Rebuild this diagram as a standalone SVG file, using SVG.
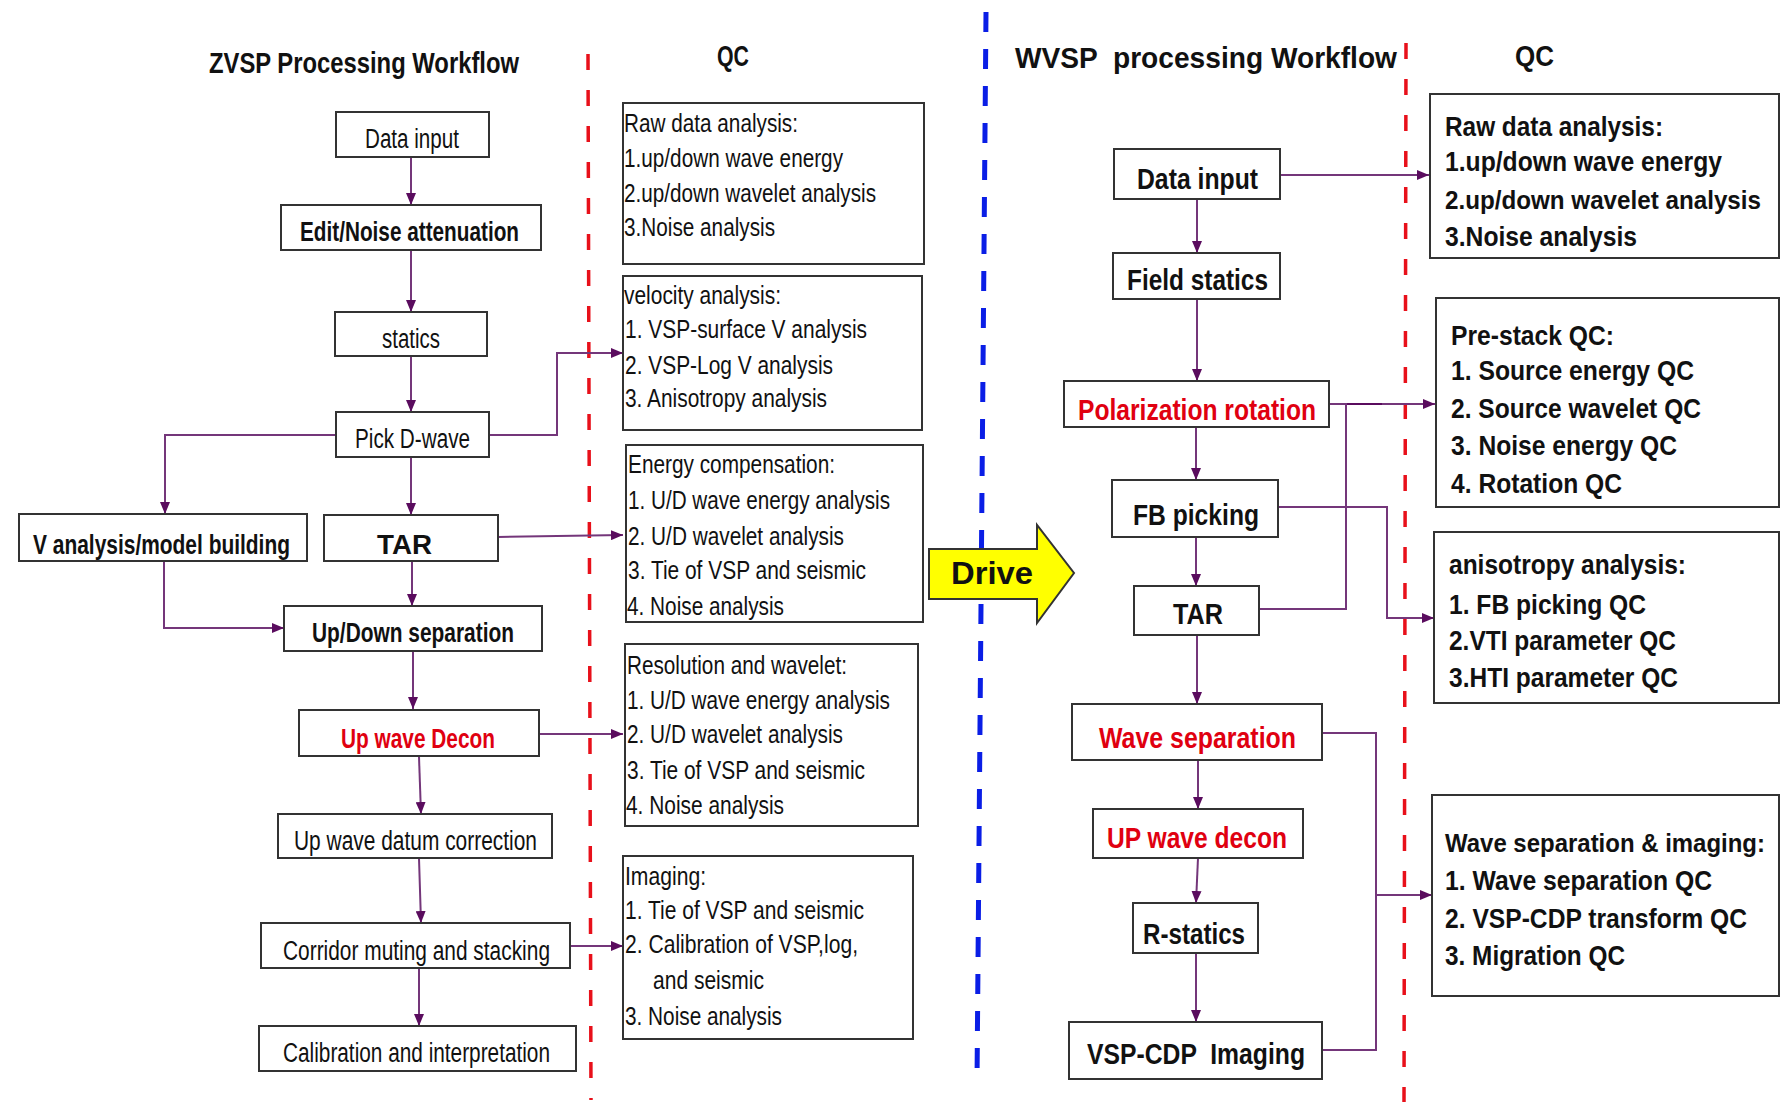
<svg xmlns="http://www.w3.org/2000/svg" width="1781" height="1103" viewBox="0 0 1781 1103">
<style>
text{font-family:"Liberation Sans",Arial,sans-serif;fill:#111}
.p{font-size:27px}
.b{font-size:27px;font-weight:bold}
.red{fill:#e00010}
.t{font-size:29px;font-weight:bold}
.q{font-size:26.5px}
.qb{font-size:27.5px;font-weight:bold}
.qs{font-size:25px}
.rb{font-size:29px;font-weight:bold}
.box{fill:#fff;stroke:#333;stroke-width:2}
.c{fill:none;stroke:#74367a;stroke-width:2}
.ca{fill:none;stroke:#74367a;stroke-width:2;marker-end:url(#ah)}
</style>
<defs>
<marker id="ah" markerUnits="userSpaceOnUse" markerWidth="12" markerHeight="10" refX="12" refY="5" orient="auto">
<path d="M0,0 L12,5 L0,10 z" fill="#5a0c5e"/>
</marker>
</defs>
<rect width="1781" height="1103" fill="#fff"/>

<g id="dividers">
<path d="M588,54 L591,1100" stroke="#e8101a" stroke-width="3.5" stroke-dasharray="16 20" fill="none"/>
<path d="M986,12 L977,1082" stroke="#0a1ee6" stroke-width="5" stroke-dasharray="20 17" fill="none"/>
<path d="M1406,43 L1404,1102" stroke="#e8101a" stroke-width="3.5" stroke-dasharray="16 20" fill="none"/>
</g>

<g id="titles">
<text class="t" x="209" y="73" textLength="310" lengthAdjust="spacingAndGlyphs">ZVSP Processing Workflow</text>
<text class="t" x="717" y="66" textLength="32" lengthAdjust="spacingAndGlyphs">QC</text>
<text class="t" x="1015" y="68" textLength="382" lengthAdjust="spacingAndGlyphs" xml:space="preserve">WVSP  processing Workflow</text>
<text class="t" x="1515" y="66" textLength="39" lengthAdjust="spacingAndGlyphs">QC</text>
</g>

<g id="connectors">
<path class="ca" d="M411,157 V205"/>
<path class="ca" d="M411,250 V312"/>
<path class="ca" d="M411,356 V412"/>
<path class="ca" d="M336,435 H165 V514"/>
<path class="ca" d="M489,435 H557 V353 H623"/>
<path class="ca" d="M411,457 V515"/>
<path class="ca" d="M498,537 L623,535"/>
<path class="ca" d="M412,561 V606"/>
<path class="ca" d="M164,561 V628 H284"/>
<path class="ca" d="M413,651 V709"/>
<path class="ca" d="M539,734 H623"/>
<path class="ca" d="M419,757 L421,814"/>
<path class="ca" d="M419,858 L421,923"/>
<path class="ca" d="M570,946 H623"/>
<path class="ca" d="M419,968 V1026"/>

<path class="ca" d="M1280,175 H1429"/>
<path class="ca" d="M1197,199 V253"/>
<path class="ca" d="M1197,299 V381"/>
<path class="ca" d="M1329,404 H1435"/>
<path class="c" d="M1347,404 H1382" stroke-width="3" style="stroke:#5a0c5e"/>
<path class="ca" d="M1196,427 V480"/>
<path class="ca" d="M1278,507 H1387 V618 H1434"/>
<path class="ca" d="M1196,537 V586"/>
<path class="c" d="M1259,609 H1346 V404"/>
<path class="ca" d="M1197,635 V704"/>
<path class="c" d="M1322,733 H1376 V1050 H1322"/>
<path class="ca" d="M1376,895 H1432"/>
<path class="ca" d="M1198,760 V809"/>
<path class="ca" d="M1198,858 L1196,903"/>
<path class="ca" d="M1196,953 V1022"/>
</g>

<g id="z-data-input"><rect class="box" x="336" y="112" width="153" height="45"/><text class="p" x="365" y="148" textLength="94" lengthAdjust="spacingAndGlyphs">Data input</text></g>
<g id="z-edit-noise"><rect class="box" x="281" y="205" width="260" height="45"/><text class="b" x="300" y="241" textLength="219" lengthAdjust="spacingAndGlyphs">Edit/Noise attenuation</text></g>
<g id="z-statics"><rect class="box" x="335" y="312" width="152" height="44"/><text class="p" x="382" y="348" textLength="58" lengthAdjust="spacingAndGlyphs">statics</text></g>
<g id="z-pick"><rect class="box" x="336" y="412" width="153" height="45"/><text class="p" x="355" y="448" textLength="115" lengthAdjust="spacingAndGlyphs">Pick D-wave</text></g>
<g id="z-vanalysis"><rect class="box" x="19" y="514" width="288" height="47"/><text class="b" x="33" y="554" textLength="257" lengthAdjust="spacingAndGlyphs">V analysis/model building</text></g>
<g id="z-tar"><rect class="box" x="324" y="515" width="174" height="46"/><text class="b" x="377" y="554" textLength="55" lengthAdjust="spacingAndGlyphs">TAR</text></g>
<g id="z-updown"><rect class="box" x="284" y="606" width="258" height="45"/><text class="b" x="312" y="642" textLength="202" lengthAdjust="spacingAndGlyphs">Up/Down separation</text></g>
<g id="z-decon"><rect class="box" x="299" y="710" width="240" height="46"/><text class="b red" x="341" y="748" textLength="154" lengthAdjust="spacingAndGlyphs">Up wave Decon</text></g>
<g id="z-datum"><rect class="box" x="278" y="814" width="274" height="44"/><text class="p" x="294" y="850" textLength="243" lengthAdjust="spacingAndGlyphs">Up wave datum correction</text></g>
<g id="z-corridor"><rect class="box" x="261" y="923" width="309" height="45"/><text class="p" x="283" y="960" textLength="267" lengthAdjust="spacingAndGlyphs">Corridor muting and stacking</text></g>
<g id="z-calibration"><rect class="box" x="259" y="1026" width="317" height="45"/><text class="p" x="283" y="1062" textLength="267" lengthAdjust="spacingAndGlyphs">Calibration and interpretation</text></g>

<g id="zqc-raw"><rect class="box" x="623" y="103" width="301" height="161"/>
<text class="q" x="624" y="132" textLength="174" lengthAdjust="spacingAndGlyphs">Raw data analysis:</text>
<text class="q" x="624" y="167" textLength="219" lengthAdjust="spacingAndGlyphs">1.up/down wave energy</text>
<text class="q" x="624" y="202" textLength="252" lengthAdjust="spacingAndGlyphs">2.up/down wavelet analysis</text>
<text class="q" x="624" y="236" textLength="151" lengthAdjust="spacingAndGlyphs">3.Noise analysis</text></g>
<g id="zqc-velocity"><rect class="box" x="623" y="276" width="299" height="154"/>
<text class="q" x="624" y="304" textLength="157" lengthAdjust="spacingAndGlyphs">velocity analysis:</text>
<text class="q" x="625" y="338" textLength="242" lengthAdjust="spacingAndGlyphs">1. VSP-surface V analysis</text>
<text class="q" x="625" y="374" textLength="208" lengthAdjust="spacingAndGlyphs">2. VSP-Log V analysis</text>
<text class="q" x="625" y="407" textLength="202" lengthAdjust="spacingAndGlyphs">3. Anisotropy analysis</text></g>
<g id="zqc-energy"><rect class="box" x="626" y="445" width="297" height="177"/>
<text class="q" x="628" y="473" textLength="207" lengthAdjust="spacingAndGlyphs">Energy compensation:</text>
<text class="q" x="628" y="509" textLength="262" lengthAdjust="spacingAndGlyphs">1. U/D wave energy analysis</text>
<text class="q" x="628" y="545" textLength="216" lengthAdjust="spacingAndGlyphs">2. U/D wavelet analysis</text>
<text class="q" x="628" y="579" textLength="238" lengthAdjust="spacingAndGlyphs">3. Tie of VSP and seismic</text>
<text class="q" x="627" y="615" textLength="157" lengthAdjust="spacingAndGlyphs">4. Noise analysis</text></g>
<g id="zqc-resolution"><rect class="box" x="625" y="644" width="293" height="182"/>
<text class="q" x="627" y="674" textLength="220" lengthAdjust="spacingAndGlyphs">Resolution and wavelet:</text>
<text class="q" x="627" y="709" textLength="263" lengthAdjust="spacingAndGlyphs">1. U/D wave energy analysis</text>
<text class="q" x="627" y="743" textLength="216" lengthAdjust="spacingAndGlyphs">2. U/D wavelet analysis</text>
<text class="q" x="627" y="779" textLength="238" lengthAdjust="spacingAndGlyphs">3. Tie of VSP and seismic</text>
<text class="q" x="626" y="814" textLength="158" lengthAdjust="spacingAndGlyphs">4. Noise analysis</text></g>
<g id="zqc-imaging"><rect class="box" x="623" y="856" width="290" height="183"/>
<text class="q" x="625" y="885" textLength="81" lengthAdjust="spacingAndGlyphs">Imaging:</text>
<text class="q" x="625" y="919" textLength="239" lengthAdjust="spacingAndGlyphs">1. Tie of VSP and seismic</text>
<text class="q" x="625" y="953" textLength="233" lengthAdjust="spacingAndGlyphs">2. Calibration of VSP,log,</text>
<text class="q" x="653" y="989" textLength="111" lengthAdjust="spacingAndGlyphs">and seismic</text>
<text class="q" x="625" y="1025" textLength="157" lengthAdjust="spacingAndGlyphs">3. Noise analysis</text></g>

<g id="drive">
<polygon points="929,549 1037,549 1037,525 1074,573 1037,623 1037,599 929,599" fill="#ffff00" stroke="#333" stroke-width="2"/>
<text x="951" y="584" style="font-size:32px;font-weight:bold" textLength="82" lengthAdjust="spacingAndGlyphs">Drive</text>
</g>

<g id="w-data-input"><rect class="box" x="1114" y="149" width="166" height="50"/><text class="rb" x="1137" y="189" textLength="121" lengthAdjust="spacingAndGlyphs">Data input</text></g>
<g id="w-field-statics"><rect class="box" x="1113" y="253" width="167" height="46"/><text class="rb" x="1127" y="290" textLength="141" lengthAdjust="spacingAndGlyphs">Field statics</text></g>
<g id="w-polarization"><rect class="box" x="1064" y="381" width="265" height="46"/><text class="rb red" x="1078" y="420" textLength="238" lengthAdjust="spacingAndGlyphs">Polarization rotation</text></g>
<g id="w-fb"><rect class="box" x="1112" y="480" width="166" height="57"/><text class="rb" x="1133" y="525" textLength="126" lengthAdjust="spacingAndGlyphs">FB picking</text></g>
<g id="w-tar"><rect class="box" x="1134" y="586" width="125" height="49"/><text class="rb" x="1173" y="624" textLength="50" lengthAdjust="spacingAndGlyphs">TAR</text></g>
<g id="w-wavesep"><rect class="box" x="1072" y="704" width="250" height="56"/><text class="rb red" x="1099" y="748" textLength="197" lengthAdjust="spacingAndGlyphs">Wave separation</text></g>
<g id="w-updecon"><rect class="box" x="1093" y="809" width="210" height="49"/><text class="rb red" x="1107" y="848" textLength="180" lengthAdjust="spacingAndGlyphs">UP wave decon</text></g>
<g id="w-rstatics"><rect class="box" x="1133" y="903" width="125" height="50"/><text class="rb" x="1143" y="944" textLength="102" lengthAdjust="spacingAndGlyphs">R-statics</text></g>
<g id="w-vspcdp"><rect class="box" x="1069" y="1022" width="253" height="57"/><text class="rb" x="1087" y="1064" textLength="218" lengthAdjust="spacingAndGlyphs" xml:space="preserve">VSP-CDP  Imaging</text></g>

<g id="wqc-raw"><rect class="box" x="1430" y="94" width="349" height="164"/>
<text class="qb" x="1445" y="136" textLength="218" lengthAdjust="spacingAndGlyphs">Raw data analysis:</text>
<text class="qb" x="1445" y="171" textLength="277" lengthAdjust="spacingAndGlyphs">1.up/down wave energy</text>
<text class="qb" x="1445" y="209" style="font-size:25px" textLength="316" lengthAdjust="spacingAndGlyphs">2.up/down wavelet analysis</text>
<text class="qb" x="1445" y="246" textLength="192" lengthAdjust="spacingAndGlyphs">3.Noise analysis</text></g>
<g id="wqc-prestack"><rect class="box" x="1436" y="298" width="343" height="209"/>
<text class="qb" x="1451" y="345" textLength="163" lengthAdjust="spacingAndGlyphs">Pre-stack QC:</text>
<text class="qb" x="1451" y="380" textLength="243" lengthAdjust="spacingAndGlyphs">1. Source energy QC</text>
<text class="qb" x="1451" y="418" textLength="250" lengthAdjust="spacingAndGlyphs">2. Source wavelet QC</text>
<text class="qb" x="1451" y="455" textLength="226" lengthAdjust="spacingAndGlyphs">3. Noise energy QC</text>
<text class="qb" x="1451" y="493" textLength="171" lengthAdjust="spacingAndGlyphs">4. Rotation QC</text></g>
<g id="wqc-anisotropy"><rect class="box" x="1434" y="532" width="345" height="171"/>
<text class="qb" x="1449" y="574" textLength="237" lengthAdjust="spacingAndGlyphs">anisotropy analysis:</text>
<text class="qb" x="1449" y="614" textLength="197" lengthAdjust="spacingAndGlyphs">1. FB picking QC</text>
<text class="qb" x="1449" y="650" textLength="227" lengthAdjust="spacingAndGlyphs">2.VTI parameter QC</text>
<text class="qb" x="1449" y="687" textLength="229" lengthAdjust="spacingAndGlyphs">3.HTI parameter QC</text></g>
<g id="wqc-wavesep"><rect class="box" x="1432" y="795" width="347" height="201"/>
<text class="qb" x="1445" y="852" style="font-size:25px" textLength="320" lengthAdjust="spacingAndGlyphs">Wave separation &amp; imaging:</text>
<text class="qb" x="1445" y="890" textLength="267" lengthAdjust="spacingAndGlyphs">1. Wave separation QC</text>
<text class="qb" x="1445" y="928" textLength="302" lengthAdjust="spacingAndGlyphs">2. VSP-CDP transform QC</text>
<text class="qb" x="1445" y="965" textLength="180" lengthAdjust="spacingAndGlyphs">3. Migration QC</text></g>
</svg>
